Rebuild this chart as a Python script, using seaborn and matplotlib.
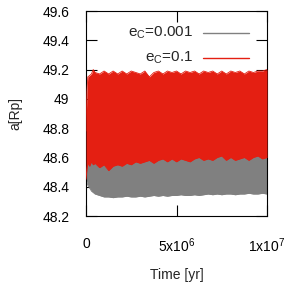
import pandas as pd
import matplotlib
matplotlib.use('Agg')
import matplotlib.pyplot as plt
from matplotlib.ticker import FuncFormatter, FixedLocator, FixedFormatter
import seaborn as sns

# time in Myr, envelopes of the semi-major axis
t_myr = [0, 0.05, 0.1, 0.2, 0.3, 0.4, 0.5, 0.75, 1.0, 1.25, 1.5, 1.75, 2.0, 2.25, 2.5,
         2.75, 3.0, 3.25, 3.5, 3.75, 4.0, 4.25, 4.5, 4.75, 5.0, 5.25, 5.5, 5.75, 6.0,
         6.25, 6.5, 6.75, 7.0, 7.25, 7.5, 7.75, 8.0, 8.25, 8.5, 8.75, 9.0, 9.25, 9.5,
         9.75, 10.0]

red_hi = [48.78, 49.05, 49.15, 49.16, 49.17, 49.20, 49.18, 49.17, 49.19, 49.17, 49.19,
          49.17, 49.19, 49.17, 49.19, 49.18, 49.17, 49.19, 49.15, 49.18, 49.19, 49.17,
          49.19, 49.18, 49.19, 49.17, 49.19, 49.18, 49.19, 49.17, 49.19, 49.18, 49.19,
          49.17, 49.19, 49.17, 49.19, 49.18, 49.19, 49.17, 49.19, 49.18, 49.19, 49.19,
          49.20]
red_lo = [48.45, 48.52, 48.56, 48.54, 48.57, 48.55, 48.56, 48.53, 48.55, 48.51, 48.54,
          48.55, 48.54, 48.56, 48.55, 48.57, 48.56, 48.57, 48.58, 48.56, 48.58, 48.59,
          48.57, 48.59, 48.57, 48.59, 48.58, 48.57, 48.59, 48.60, 48.58, 48.59, 48.58,
          48.60, 48.61, 48.58, 48.60, 48.58, 48.59, 48.60, 48.58, 48.60, 48.61, 48.59,
          48.60]
gray_hi = [48.46, 48.58, 48.62, 48.62, 48.63, 48.62, 48.63, 48.62, 48.63, 48.62, 48.63,
           48.63, 48.64, 48.63, 48.64, 48.64, 48.63, 48.64, 48.64, 48.63, 48.64, 48.65,
           48.64, 48.64, 48.64, 48.65, 48.64, 48.64, 48.65, 48.65, 48.64, 48.65, 48.65,
           48.65, 48.66, 48.65, 48.65, 48.64, 48.65, 48.66, 48.65, 48.65, 48.66, 48.65,
           48.65]
gray_lo = [48.45, 48.43, 48.41, 48.39, 48.37, 48.36, 48.35, 48.34, 48.33, 48.33, 48.325,
           48.33, 48.33, 48.335, 48.33, 48.33, 48.335, 48.33, 48.335, 48.34, 48.335, 48.34,
           48.335, 48.34, 48.34, 48.345, 48.34, 48.34, 48.345, 48.34, 48.345, 48.35, 48.345,
           48.35, 48.345, 48.35, 48.35, 48.345, 48.35, 48.35, 48.355, 48.35, 48.35, 48.355,
           48.35]

runs = ['e$_C$=0.001', 'e$_C$=0.1']
colors = ['#808080', '#e41f12']

t_yr = [v * 1e6 for v in t_myr]
frames = []
for run, hi, lo in [(runs[0], gray_hi, gray_lo), (runs[1], red_hi, red_lo)]:
    frames.append(pd.DataFrame({'t': t_yr, 'a': hi, 'run': run, 'edge': 'hi'}))
    frames.append(pd.DataFrame({'t': t_yr, 'a': lo, 'run': run, 'edge': 'lo'}))
df = pd.concat(frames, ignore_index=True)

sns.set_style('ticks')
plt.rcParams['font.family'] = ['Liberation Sans', 'DejaVu Sans']
plt.rcParams['mathtext.fontset'] = 'custom'
plt.rcParams['mathtext.rm'] = 'Liberation Sans'
plt.rcParams['mathtext.it'] = 'Liberation Sans'
plt.rcParams['font.size'] = 10

fig, ax = plt.subplots(figsize=(2.94, 2.91), dpi=100)
fig.subplots_adjust(left=86/294, right=267/294, top=1-11/291, bottom=1-216/291)

sns.lineplot(data=df, x='t', y='a', hue='run', units='edge', estimator=None,
             palette=dict(zip(runs, colors)), lw=0.6, ax=ax, legend=False)

ax.fill_between(t_yr, gray_lo, gray_hi, color=colors[0], lw=0, zorder=1.0)
ax.fill_between(t_yr, red_lo, red_hi, color=colors[1], lw=0, zorder=2.9)
for ln in ax.lines:
    if ln.get_color() == colors[0]:
        ln.set_zorder(1.0)
    else:
        ln.set_zorder(3)

ax.set_xlim(0, 1e7)
ax.set_ylim(48.2, 49.6)
ax.xaxis.set_major_locator(FixedLocator([0, 5e6, 1e7]))
ax.xaxis.set_major_formatter(FixedFormatter(['0', '5x10$^{6}$', '1x10$^{7}$']))
ax.yaxis.set_major_locator(FixedLocator([48.2, 48.4, 48.6, 48.8, 49.0, 49.2, 49.4, 49.6]))
ax.yaxis.set_major_formatter(FuncFormatter(lambda v, p: '%g' % round(v, 1)))
ax.tick_params(direction='in', length=8, width=0.8, top=True, right=True, colors='black',
               labelsize=10)
ax.tick_params(axis='x', pad=15)
ax.tick_params(axis='y', pad=12)
for s in ax.spines.values():
    s.set_linewidth(0.8)
    s.set_color('black')

ax.set_xlabel('Time [yr]', labelpad=9)
ax.set_ylabel('a[Rp]', labelpad=14)

# gnuplot-style key: right-aligned text, sample line to the right
for i, (run, col) in enumerate(zip(runs, colors)):
    yk = 0.893 - i * 0.122
    ax.text(0.591, yk, run, transform=ax.transAxes, ha='right', va='center',
            fontsize=11, zorder=5)
    ax.plot([0.646, 0.901], [yk, yk], transform=ax.transAxes, color=col, lw=1.0,
            zorder=5)

fig.savefig('out.png', dpi=100)
